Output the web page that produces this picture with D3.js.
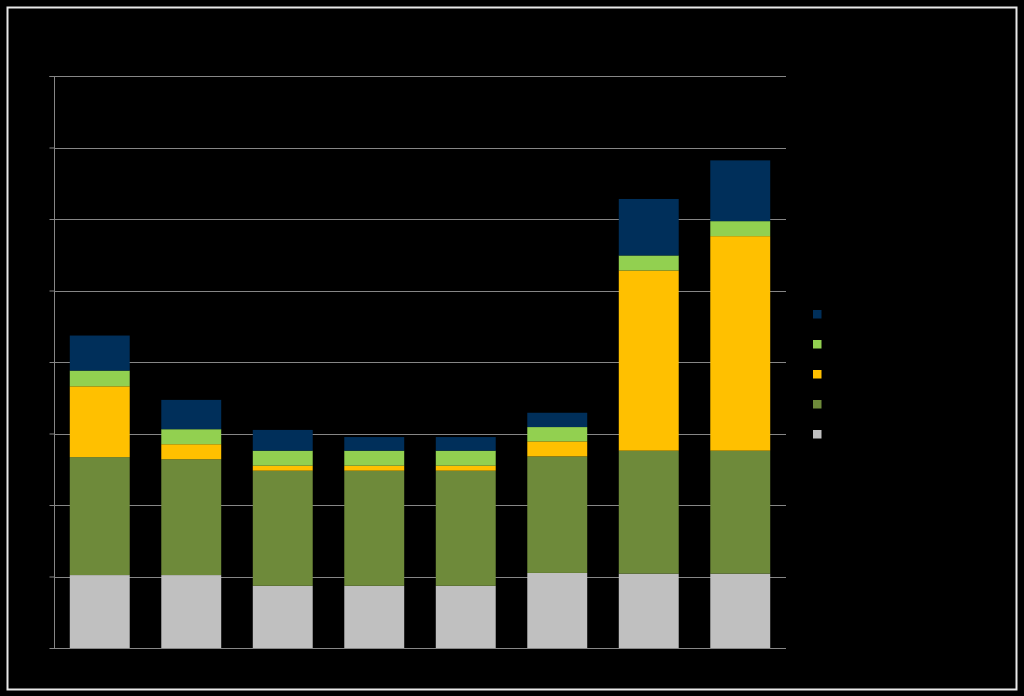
<!DOCTYPE html>
<html><head><meta charset="utf-8">
<script src="https://cdn.jsdelivr.net/npm/d3@7"></script>
<style>html,body{margin:0;padding:0;background:#000;}svg{display:block;}</style>
</head><body>
<svg id="c" width="1024" height="696"></svg>
<script>
const categories = ["1","2","3","4","5","6","7","8"];
const seriesNames = ["s1","s2","s3","s4","s5"]; // bottom to top
const s1 = [1.02, 1.02, 0.87, 0.87, 0.87, 1.05, 1.04, 1.04];
const s2 = [1.65, 1.62, 1.61, 1.61, 1.61, 1.63, 1.72, 1.72];
const s3 = [0.99, 0.21, 0.07, 0.07, 0.07, 0.21, 2.52, 3.00];
const s4 = [0.22, 0.21, 0.21, 0.21, 0.21, 0.20, 0.21, 0.21];
const s5 = [0.49, 0.41, 0.29, 0.19, 0.19, 0.20, 0.79, 0.85];
const yTicks = [0,1,2,3,4,5,6,7,8];
const colors = ["#c0c0c0","#6e8a3a","#ffc000","#92d050","#002f5a"];

const svg = d3.select("#c");
svg.append("rect").attr("x",0).attr("y",0).attr("width",1024).attr("height",696).attr("fill","#000");
svg.append("rect").attr("x",7.5).attr("y",7.5).attr("width",1009).attr("height",682)
  .attr("fill","none").attr("stroke","#e8e8e8").attr("stroke-width",2);

const m = {left:54, right:786, top:76, bottom:648};
const x = d3.scaleBand().domain(categories).range([m.left, m.right]).paddingInner(0.345).paddingOuter(0.1725);
const y = d3.scaleLinear().domain([0,8]).range([m.bottom, m.top]);

const gridColor = "#868686";
svg.append("g").selectAll("line").data(yTicks.slice(1)).join("line")
  .attr("x1", m.left).attr("x2", m.right)
  .attr("y1", d=>Math.round(y(d))+0.5).attr("y2", d=>Math.round(y(d))+0.5)
  .attr("stroke", gridColor).attr("stroke-width",1);

const rows = categories.map((c,i)=>({cat:c, s1:s1[i], s2:s2[i], s3:s3[i], s4:s4[i], s5:s5[i]}));
const stack = d3.stack().keys(seriesNames)(rows);

svg.append("g").selectAll("g").data(stack).join("g")
  .attr("fill",(d,i)=>colors[i])
  .selectAll("rect").data(d=>d).join("rect")
  .attr("x", d=>x(d.data.cat))
  .attr("width", x.bandwidth())
  .attr("y", d=>y(d[1]))
  .attr("height", d=>y(d[0])-y(d[1]));

const yAxis = d3.axisLeft(y).tickValues(yTicks).tickSize(5).tickFormat("");
const ga = svg.append("g").attr("transform",`translate(${m.left+0.5},0)`).call(yAxis);
ga.selectAll("path,line").attr("stroke", gridColor);
ga.select(".domain").attr("d", `M-5,${m.top+0.5}H0V${m.bottom+0.5}`);
svg.append("line").attr("x1",m.left).attr("x2",m.right)
  .attr("y1",m.bottom+0.5).attr("y2",m.bottom+0.5).attr("stroke",gridColor);

// legend (top series first)
const legendOrder = [4,3,2,1,0];
svg.append("g").selectAll("rect").data(legendOrder).join("rect")
  .attr("x",813).attr("y",(d,i)=>310+i*30).attr("width",8.5).attr("height",8.5)
  .attr("fill",d=>colors[d]);
</script>
</body></html>
